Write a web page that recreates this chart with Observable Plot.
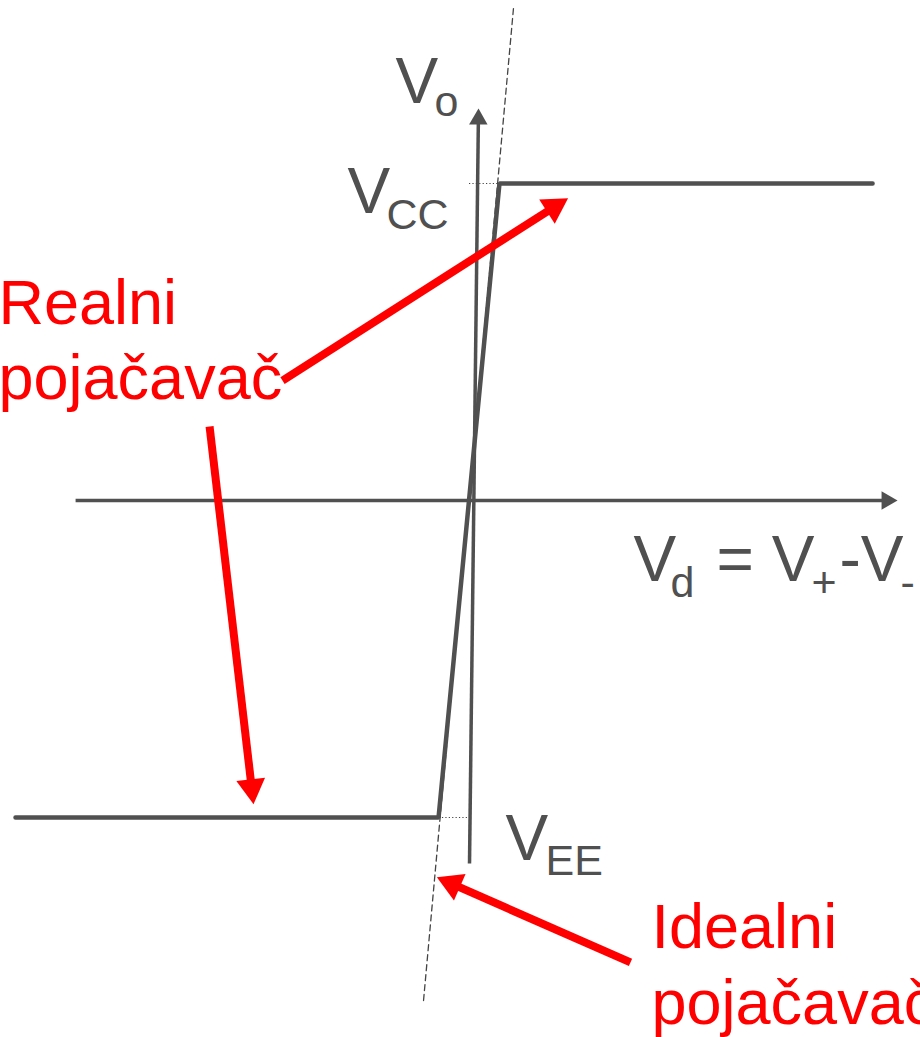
<!DOCTYPE html>
<html><head><meta charset="utf-8">
<script src="https://cdn.jsdelivr.net/npm/d3@7"></script>
<script src="https://cdn.jsdelivr.net/npm/@observablehq/plot@0.6"></script>
<style>body{margin:0;background:#fff}#chart svg{display:block}</style>
</head><body><div id="chart"></div>
<script>
// ---- Data (Vd in mV, Vo in V) ----
// Real amplifier transfer characteristic
const realVd = [-2.234, -0.15, 0.15, 1.988];
const realVo = [-15, -15, 15, 15];
// Ideal amplifier (dashed)
const idealVd = [-0.224, 0.219];
const idealVo = [-23.66, 23.28];
// Saturation levels and dotted guides
const satVo = [15, -15];          // VCC, VEE
const guideFrom = [0.0, -0.15];
const guideTo = [0.15, -0.007];
// Axes end points
const axisXVd = [-1.938, 2.111];
const axisYVd = [0.0025, 0.0468];
const axisYVo = [-17.18, 18.55];
// Red annotation arrows: tail -> tip
const arrowTailVd = [-0.9187, -1.278, 0.7956];
const arrowTailVo = [5.678, 3.502, -21.86];
const arrowTipVd = [0.4852, -1.0616, -0.1552];
const arrowTipVo = [14.29, -14.34, -17.84];
// Labels
const mainText = ["V", "V", "V", "V", "= V", "-V"];
const mainVd = [-0.3621, -0.5985, 0.1798, 0.8103, 1.2192, 1.8251];
const mainVo = [18.833, 13.581, -17.035, -3.786, -3.786, -3.786];
const subText = ["o", "CC", "EE", "d", "+", "-"];
const subVd = [-0.170, -0.4064, 0.3768, 0.9926, 1.6872, 2.1256];
const subVo = [18.171, 12.871, -17.745, -4.543, -4.543, -4.543];
const redText = ["Realni\npojačavač", "Idealni\npojačavač"];
const redVd = [-2.3177, 0.899];
const redVo = [4.798, -24.776];

// ---- Scales ----
const W = 920, H = 1037;
const xDomain = [-2.3079, 2.2241];
const yDomain = [-25.411, 23.660];
const sx = Plot.scale({x: {type: "linear", domain: xDomain, range: [0, W]}});
const sy = Plot.scale({y: {type: "linear", domain: yDomain, range: [H, 0]}});

function arrowParts(t0, t1, p0, p1, len) {
  const x0 = sx.apply(t0), y0 = sy.apply(t1), x1 = sx.apply(p0), y1 = sy.apply(p1);
  const dx = x1 - x0, dy = y1 - y0, L = Math.hypot(dx, dy), ux = dx / L, uy = dy / L;
  const bx = x1 - ux * (len - 2), by = y1 - uy * (len - 2);
  const cx = x1 - ux * len * 2 / 3, cy = y1 - uy * len * 2 / 3;
  return {
    shaft: {x1: t0, y1: t1, x2: sx.invert(bx), y2: sy.invert(by)},
    head: {x: sx.invert(cx), y: sy.invert(cy), rotate: Math.atan2(dy, dx) * 180 / Math.PI + 90}
  };
}
function rFor(len) { const k = len / 3; return Math.sqrt(3 * Math.sqrt(3) * k * k / Math.PI); }

const real = realVd.map((d, i) => ({vd: d, vo: realVo[i]}));
const ideal = idealVd.map((d, i) => ({vd: d, vo: idealVo[i]}));
const guides = satVo.map((v, i) => ({x1: guideFrom[i], x2: guideTo[i], y: v}));

const redArrows = arrowTailVd.map((d, i) => arrowParts(d, arrowTailVo[i], arrowTipVd[i], arrowTipVo[i], 24));
const axX = arrowParts(axisXVd[0], 0, axisXVd[1], 0, 16);
const axY = arrowParts(axisYVd[0], axisYVo[0], axisYVd[1], axisYVo[1], 16);

const mains = mainText.map((t, i) => ({t, x: mainVd[i], y: mainVo[i]}));
const subs = subText.map((t, i) => ({t, x: subVd[i], y: subVo[i]}));
const reds = redText.map((t, i) => ({t, x: redVd[i], y: redVo[i]}));

const gray = "#505050";
const font = "Liberation Sans, Arial, Helvetica, sans-serif";

const chart = Plot.plot({
  width: W, height: H,
  margin: 0,
  style: {background: "#fff", fontFamily: font},
  x: {axis: null, domain: xDomain, range: [0, W]},
  y: {axis: null, domain: yDomain, range: [H, 0]},
  marks: [
    // axes
    Plot.link([axX.shaft, axY.shaft], {x1: "x1", y1: "y1", x2: "x2", y2: "y2", stroke: gray, strokeWidth: 3.5}),
    Plot.dot([axX.head, axY.head], {x: "x", y: "y", rotate: "rotate", symbol: "triangle", r: rFor(16), fill: gray, stroke: "none"}),
    // ideal dashed line
    Plot.line(ideal, {x: "vd", y: "vo", stroke: "#444", strokeWidth: 1.3, strokeDasharray: "6,4"}),
    // dotted guides
    Plot.link(guides, {x1: "x1", x2: "x2", y1: "y", y2: "y", stroke: "#444", strokeWidth: 1.2, strokeDasharray: "1.2,2.2"}),
    // real characteristic
    Plot.line(real, {x: "vd", y: "vo", stroke: gray, strokeWidth: 4.5, strokeLinejoin: "miter"}),
    // red arrows
    Plot.link(redArrows.map(a => a.shaft), {x1: "x1", y1: "y1", x2: "x2", y2: "y2", stroke: "#ff0000", strokeWidth: 8}),
    Plot.dot(redArrows.map(a => a.head), {x: "x", y: "y", rotate: "rotate", symbol: "triangle", r: rFor(25), fill: "#ff0000", stroke: "none"}),
    // labels
    Plot.text(mains, {x: "x", y: "y", text: "t", fontSize: 64, textAnchor: "start", lineAnchor: "bottom", fill: gray}),
    Plot.text(subs, {x: "x", y: "y", text: "t", fontSize: 43, textAnchor: "start", lineAnchor: "bottom", fill: gray}),
    Plot.text(reds, {x: "x", y: "y", text: "t", fontSize: 63, lineHeight: 1.2, textAnchor: "start", lineAnchor: "bottom", fill: "#ff0000"})
  ]
});
document.getElementById("chart").appendChild(chart);
</script>
</body></html>
